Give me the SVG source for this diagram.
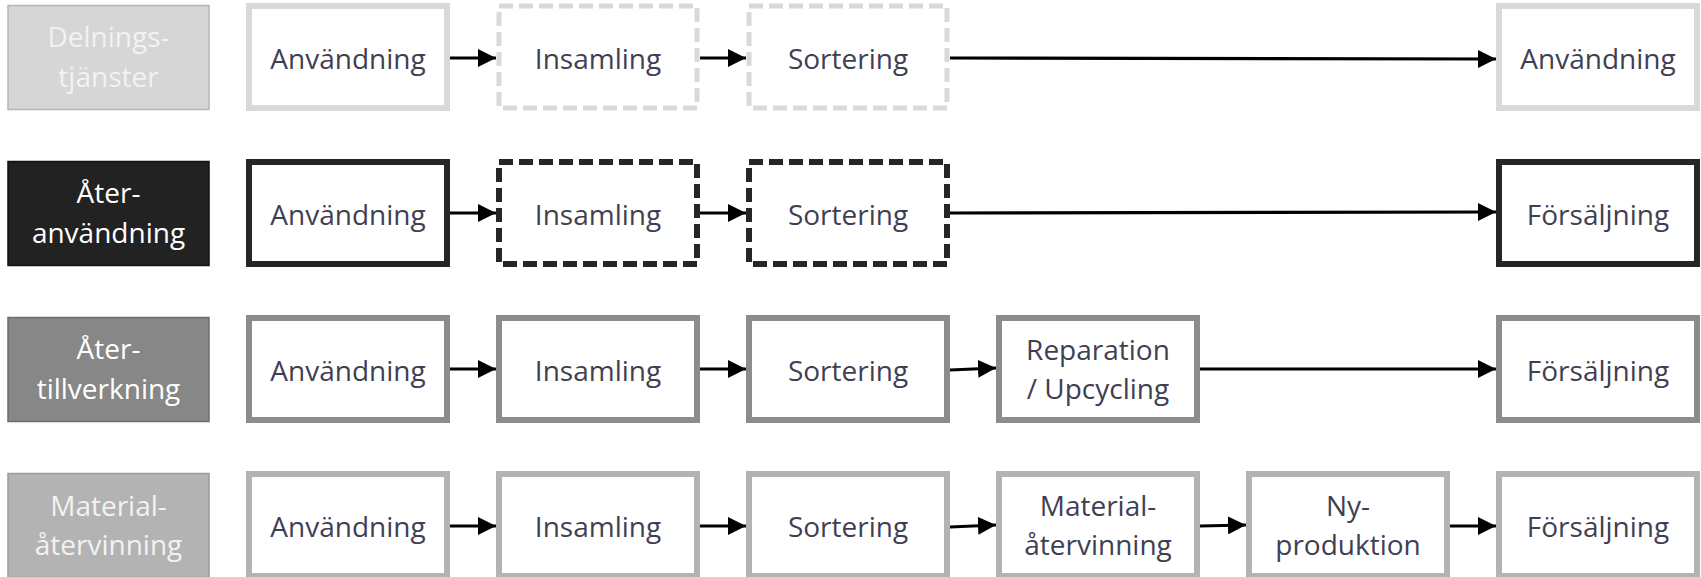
<svg xmlns="http://www.w3.org/2000/svg" width="1701" height="577" viewBox="0 0 1701 577">
<style>
.t{font-family:"Open Sans","Liberation Sans",sans-serif;font-size:28px;text-anchor:middle;fill:#3f3f54}
.lt{font-family:"Open Sans","Liberation Sans",sans-serif;font-size:28px;text-anchor:middle;fill:#ffffff}
.box{fill:#ffffff;stroke-width:6}
.lab{stroke-width:1.5}
.r1{stroke:#d9d9d9}
.r2{stroke:#262626}
.r3{stroke:#8c8c8c}
.r4{stroke:#b3b3b3}
.d1{stroke-dasharray:14 6;stroke-width:5}
.d2{stroke-dasharray:14 6;stroke-width:6}
.c{fill:none;stroke:#000;stroke-width:3.2;marker-end:url(#ah)}
</style>
<defs>
<marker id="ah" markerUnits="userSpaceOnUse" markerWidth="19" markerHeight="18" refX="18" refY="9" orient="auto">
<path d="M0,0 L18,9 L0,18 z" fill="#000"/>
</marker>
</defs>
<rect width="1701" height="577" fill="#ffffff"/>

<!-- Row 1 -->
<g id="lab1"><rect class="lab" x="8" y="5.5" width="201" height="104" fill="#d6d6d6" stroke="#b5b5b5"/><text class="lt" x="108.5" y="47" style="fill:#f2f2f2">Delnings-</text><text class="lt" x="108.5" y="87" style="fill:#f2f2f2">tjänster</text></g>
<g id="r1c1"><rect class="box r1" x="249" y="6" width="198" height="102"/><text class="t" x="348" y="69">Användning</text></g>
<g id="r1c2"><rect class="box r1 d1" x="499" y="6" width="198" height="102"/><text class="t" x="598" y="69">Insamling</text></g>
<g id="r1c3"><rect class="box r1 d1" x="749" y="6" width="198" height="102"/><text class="t" x="848" y="69">Sortering</text></g>
<g id="r1c6"><rect class="box r1" x="1499" y="6" width="198" height="102"/><text class="t" x="1598" y="69">Användning</text></g>

<!-- Row 2 -->
<g id="lab2"><rect class="lab" x="8" y="161.5" width="201" height="104" fill="#222222" stroke="#111111"/><text class="lt" x="108.5" y="203">Åter-</text><text class="lt" x="108.5" y="243">användning</text></g>
<g id="r2c1"><rect class="box r2" x="249" y="162" width="198" height="102"/><text class="t" x="348" y="225">Användning</text></g>
<g id="r2c2"><rect class="box r2 d2" x="499" y="162" width="198" height="102"/><text class="t" x="598" y="225">Insamling</text></g>
<g id="r2c3"><rect class="box r2 d2" x="749" y="162" width="198" height="102"/><text class="t" x="848" y="225">Sortering</text></g>
<g id="r2c6"><rect class="box r2" x="1499" y="162" width="198" height="102"/><text class="t" x="1598" y="225">Försäljning</text></g>

<!-- Row 3 -->
<g id="lab3"><rect class="lab" x="8" y="317.5" width="201" height="104" fill="#878787" stroke="#6e6e6e"/><text class="lt" x="108.5" y="359">Åter-</text><text class="lt" x="108.5" y="399">tillverkning</text></g>
<g id="r3c1"><rect class="box r3" x="249" y="318" width="198" height="102"/><text class="t" x="348" y="381">Användning</text></g>
<g id="r3c2"><rect class="box r3" x="499" y="318" width="198" height="102"/><text class="t" x="598" y="381">Insamling</text></g>
<g id="r3c3"><rect class="box r3" x="749" y="318" width="198" height="102"/><text class="t" x="848" y="381">Sortering</text></g>
<g id="r3c4"><rect class="box r3" x="999" y="318" width="198" height="102"/><text class="t" x="1098" y="360">Reparation</text><text class="t" x="1098" y="399">/ Upcycling</text></g>
<g id="r3c6"><rect class="box r3" x="1499" y="318" width="198" height="102"/><text class="t" x="1598" y="381">Försäljning</text></g>

<!-- Row 4 -->
<g id="lab4"><rect class="lab" x="8" y="473.5" width="201" height="104" fill="#b3b3b3" stroke="#9a9a9a"/><text class="lt" x="108.5" y="516" style="fill:#f2f2f2">Material-</text><text class="lt" x="108.5" y="555" style="fill:#f2f2f2">återvinning</text></g>
<g id="r4c1"><rect class="box r4" x="249" y="474" width="198" height="102"/><text class="t" x="348" y="537">Användning</text></g>
<g id="r4c2"><rect class="box r4" x="499" y="474" width="198" height="102"/><text class="t" x="598" y="537">Insamling</text></g>
<g id="r4c3"><rect class="box r4" x="749" y="474" width="198" height="102"/><text class="t" x="848" y="537">Sortering</text></g>
<g id="r4c4"><rect class="box r4" x="999" y="474" width="198" height="102"/><text class="t" x="1098" y="516">Material-</text><text class="t" x="1098" y="555">återvinning</text></g>
<g id="r4c5"><rect class="box r4" x="1249" y="474" width="198" height="102"/><text class="t" x="1348" y="516">Ny-</text><text class="t" x="1348" y="555">produktion</text></g>
<g id="r4c6"><rect class="box r4" x="1499" y="474" width="198" height="102"/><text class="t" x="1598" y="537">Försäljning</text></g>

<g id="connectors">
<path class="c" d="M450,58 L496,58"/>
<path class="c" d="M700,58 L746,58"/>
<path class="c" d="M950,58 L1496,59"/>
<path class="c" d="M450,213 L496,213"/>
<path class="c" d="M700,213 L746,213"/>
<path class="c" d="M950,213 L1496,212"/>
<path class="c" d="M450,369 L496,369"/>
<path class="c" d="M700,369 L746,369"/>
<path class="c" d="M950,370 L996,368"/>
<path class="c" d="M1200,369 L1496,369"/>
<path class="c" d="M450,526 L496,526"/>
<path class="c" d="M700,526 L746,526"/>
<path class="c" d="M950,527 L996,525"/>
<path class="c" d="M1200,526 L1246,525"/>
<path class="c" d="M1450,526 L1496,526"/>
</g>
</svg>
